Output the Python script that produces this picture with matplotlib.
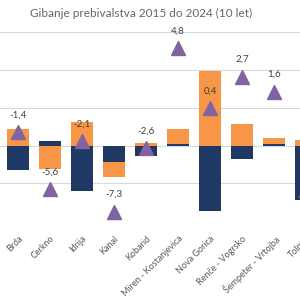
import matplotlib.pyplot as plt
import numpy as np

plt.rcParams['font.family'] = ['Lato', 'DejaVu Sans']

obcine = ["Brda", "Cerkno", "Idrija", "Kanal", "Kobarid", "Miren - Kostanjevica",
          "Nova Gorica", "Renče - Vogrsko", "Šempeter - Vrtojba", "Tolmin"]
naravni = [-320, 58, -600, -220, -145, 22, -860, -175, 22, -724]
selitveni = [220, -316, 315, -197, 35, 190, 980, 290, 74, 75]
sprememba = [-1.4, -5.6, -2.1, -7.3, -2.6, 4.8, 0.4, 2.7, 1.6, -5.7]

navy = "#203864"
orange = "#F79646"
purple = "#8064A2"

x = np.arange(len(obcine))
nar = np.array(naravni)
sel = np.array(selitveni)
# excel-style stacking: same sign stacks on top, opposite sign starts at zero
bottom_sel = np.where(np.sign(nar) == np.sign(sel), nar, 0)

fig = plt.figure(figsize=(3, 3), dpi=100)
ax = fig.add_axes([-0.004, 0.263, 1.088, 0.63])
ax.set_xlim(-0.6, 9.6)
ax.set_ylim(-1000, 1500)
ax.set_yticks(np.arange(-1000, 1501, 500))
ax.grid(axis="y", color="#d9d9d9", linewidth=0.8)
ax.set_axisbelow(True)
for s in ax.spines.values():
    s.set_visible(False)
ax.tick_params(axis="y", left=False, labelleft=False)
ax.tick_params(axis="x", bottom=False, pad=6)

ax.bar(x, nar, width=0.66, color=navy)
ax.bar(x, sel, width=0.66, bottom=bottom_sel, color=orange)
ax.set_xticks(x)
ax.set_xticklabels(obcine, rotation=45, ha="right", va="top",
                   rotation_mode="anchor", fontsize=6.5, color="#595959")

ax2 = ax.twinx()
ax2.set_ylim(-8, 6)
ax2.axis("off")
ax2.plot(x, sprememba, linestyle="none", marker="^", markersize=9.5, color=purple)
for xi, v in zip(x, sprememba):
    ax2.annotate(f"{v:.1f}".replace(".", ","), (xi, v), xytext=(0, 9),
                 textcoords="offset points", ha="center", va="bottom",
                 fontsize=7, color="#404040")

fig.text(0.47, 0.955, "Gibanje prebivalstva 2015 do 2024 (10 let)",
         ha="center", va="center", fontsize=8.5, color="#666666")

fig.savefig("out.png", dpi=100)
